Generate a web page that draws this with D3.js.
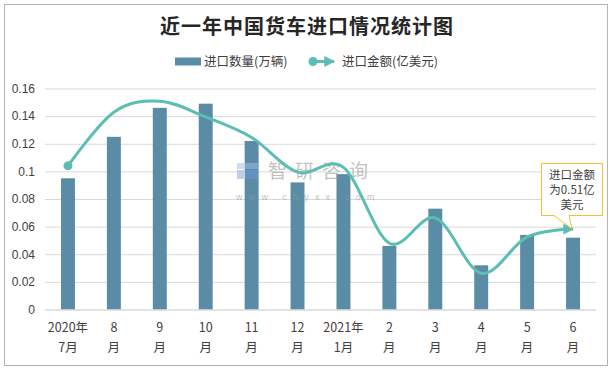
<!DOCTYPE html>
<html>
<head>
<meta charset="utf-8">
<script src="https://cdn.jsdelivr.net/npm/d3@7"></script>
<style>
  body { margin: 0; background: #fff; }
  svg { display: block; font-family: "Noto Sans CJK SC", "Noto Sans", sans-serif; }
</style>
</head>
<body>
<svg id="chart" width="612" height="370"></svg>
<script>
// 数据
const months = ["2020年|7月", "8|月", "9|月", "10|月", "11|月", "12|月", "2021年|1月", "2|月", "3|月", "4|月", "5|月", "6|月"];
const quantity = [0.095, 0.125, 0.146, 0.149, 0.122, 0.092, 0.098, 0.046, 0.073, 0.032, 0.054, 0.052]; // 万辆
const amount = [0.91, 1.25, 1.32, 1.22, 1.09, 0.87, 0.90, 0.42, 0.58, 0.23, 0.46, 0.51]; // 亿美元
const yTicks = [0, 0.02, 0.04, 0.06, 0.08, 0.1, 0.12, 0.14, 0.16];

const barColor = "#5a8ca6";
const lineColor = "#5cbdb2";
const gridColor = "#d9d9d9";

const svg = d3.select("#chart");
const plotLeft = 45, plotRight = 596, plotTop = 88.5, plotBottom = 309.5;

// 外框
svg.append("rect")
  .attr("x", 4.5).attr("y", 4.5)
  .attr("width", 603).attr("height", 361)
  .attr("fill", "#fff")
  .attr("stroke", "#b3b3b3");

// 标题
svg.append("text")
  .attr("x", 307).attr("y", 34)
  .attr("text-anchor", "middle")
  .attr("font-size", 20)
  .attr("font-weight", "bold")
  .attr("letter-spacing", 1)
  .attr("fill", "#262626")
  .text("近一年中国货车进口情况统计图");

const x = d3.scaleBand()
  .domain(months)
  .range([plotLeft, plotRight])
  .paddingInner(0.696)
  .paddingOuter(0.348);

const y = d3.scaleLinear().domain([0, 0.16]).range([plotBottom, plotTop]);
// 次坐标轴（隐藏）
const y2 = d3.scaleLinear().domain([0, 1.4]).range([plotBottom, plotTop]);

// 网格线
svg.append("g")
  .attr("transform", `translate(${plotLeft},0)`)
  .call(d3.axisLeft(y).tickValues(yTicks).tickSize(-(plotRight - plotLeft)).tickFormat(""))
  .call(g => g.select(".domain").remove())
  .call(g => g.selectAll("line").attr("stroke", gridColor));

// y 轴文字
svg.append("g")
  .attr("transform", `translate(${plotLeft},0)`)
  .call(d3.axisLeft(y).tickValues(yTicks).tickSize(0).tickPadding(10)
    .tickFormat(d => String(+d.toFixed(2))))
  .call(g => g.select(".domain").remove())
  .call(g => g.selectAll("text").attr("font-size", 12).attr("fill", "#404040")
    .attr("font-family", "'Liberation Sans', Arial, sans-serif"));

// 柱子
svg.selectAll(".bar")
  .data(quantity)
  .enter()
  .append("rect")
  .attr("class", "bar")
  .attr("x", (d, i) => x(months[i]))
  .attr("y", d => y(d))
  .attr("width", x.bandwidth())
  .attr("height", d => plotBottom - y(d))
  .attr("fill", barColor);

// 水印
const wm = svg.append("g").attr("opacity", 0.6);
wm.append("rect").attr("x", 237).attr("y", 163).attr("width", 7).attr("height", 6).attr("fill", "#b3c6e6");
wm.append("rect").attr("x", 245).attr("y", 163).attr("width", 13).attr("height", 6).attr("fill", "#9ab4de");
wm.append("rect").attr("x", 237).attr("y", 170).attr("width", 7).attr("height", 9).attr("fill", "#9ab4de");
wm.append("rect").attr("x", 245).attr("y", 170).attr("width", 13).attr("height", 9).attr("fill", "#6f94cf");
wm.append("text").attr("x", 268).attr("y", 178)
  .attr("font-size", 19).attr("fill", "#9a9a9a").attr("letter-spacing", 8)
  .text("智研咨询");
wm.append("text").attr("x", 236).attr("y", 200)
  .attr("font-size", 9).attr("fill", "#9a9a9a").attr("letter-spacing", 6.2)
  .attr("font-family", "'Liberation Sans', Arial, sans-serif")
  .text("www.chyxx.com");

// x 轴
svg.append("g")
  .attr("transform", `translate(0,${plotBottom})`)
  .call(d3.axisBottom(x).tickSize(0).tickFormat(""))
  .call(g => g.select(".domain").attr("stroke", gridColor));

const xl = svg.append("g");
months.forEach(m => {
  const parts = m.split("|");
  const t = xl.append("text")
    .attr("text-anchor", "middle")
    .attr("font-size", 12.5)
    .attr("fill", "#404040");
  parts.forEach((p, j) => {
    t.append("tspan")
      .attr("x", x(m) + x.bandwidth() / 2)
      .attr("y", 332 + j * 19.5)
      .text(p);
  });
});

// 折线（平滑）
const defs = svg.append("defs");
defs.append("marker")
  .attr("id", "arrow")
  .attr("viewBox", "0 0 10 10")
  .attr("refX", 9).attr("refY", 5)
  .attr("markerWidth", 3.6).attr("markerHeight", 3.6)
  .attr("markerUnits", "strokeWidth")
  .attr("orient", "auto")
  .append("path")
  .attr("d", "M0,0 L10,5 L0,10 Z")
  .attr("fill", lineColor);

const line = d3.line()
  .x((d, i) => x(months[i]) + x.bandwidth() / 2)
  .y(d => y2(d))
  .curve(d3.curveCardinal.tension(0));

svg.append("path")
  .datum(amount)
  .attr("d", line)
  .attr("fill", "none")
  .attr("stroke", lineColor)
  .attr("stroke-width", 3)
  .attr("marker-end", "url(#arrow)");

svg.append("circle")
  .attr("cx", x(months[0]) + x.bandwidth() / 2)
  .attr("cy", y2(amount[0]))
  .attr("r", 4.5)
  .attr("fill", lineColor);

// 标注框
const ax = x(months[11]) + x.bandwidth() / 2, ay = y2(amount[11]);
const callout = svg.append("g");
callout.append("path")
  .attr("d", `M541.5,163.5 H602.5 V215.5 H569 L${ax - 1},${ay} L554,215.5 H541.5 Z`)
  .attr("fill", "#fff")
  .attr("stroke", "#f2c12e")
  .attr("stroke-width", 1);
["进口金额", "为0.51亿", "美元"].forEach((s, j) => {
  callout.append("text")
    .attr("x", 572).attr("y", 179 + j * 15)
    .attr("text-anchor", "middle")
    .attr("font-size", 11.5)
    .attr("fill", "#404040")
    .text(s);
});

// 图例
const lg = svg.append("g");
lg.append("rect").attr("x", 175).attr("y", 57.5).attr("width", 26).attr("height", 8).attr("fill", barColor);
lg.append("text").attr("x", 204).attr("y", 66).attr("font-size", 12.5).attr("fill", "#404040").text("进口数量(万辆)");
lg.append("line").attr("x1", 313).attr("y1", 61.5).attr("x2", 334).attr("y2", 61.5)
  .attr("stroke", lineColor).attr("stroke-width", 3).attr("marker-end", "url(#arrow)");
lg.append("circle").attr("cx", 313).attr("cy", 61.5).attr("r", 4.5).attr("fill", lineColor);
lg.append("text").attr("x", 342).attr("y", 66).attr("font-size", 12.5).attr("fill", "#404040").text("进口金额(亿美元)");
</script>
</body>
</html>
